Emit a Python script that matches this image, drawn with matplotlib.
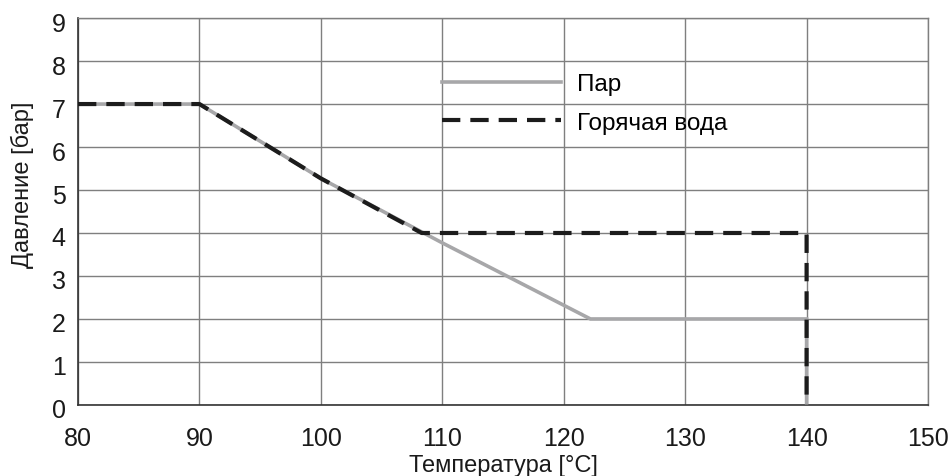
import matplotlib
matplotlib.use("Agg")
import matplotlib.pyplot as plt
import matplotlib.transforms as mtransforms

plt.rcParams['font.family'] = ['Liberation Sans', 'DejaVu Sans']

# Data
steam_t = [80, 90, 100, 110, 122.2, 140, 140]
steam_p = [7, 7, 5.27, 3.77, 2, 2, 0]
water_t = [80, 90, 100, 108.3, 140, 140]
water_p = [7, 7, 5.27, 4, 4, 0]
series_labels = ["Пар", "Горячая вода"]
x_ticks = [80, 90, 100, 110, 120, 130, 140, 150]
y_ticks = [0, 1, 2, 3, 4, 5, 6, 7, 8, 9]
x_label = "Температура [°C]"
y_label = "Давление [бар]"

fig = plt.figure(figsize=(9.49, 4.77), dpi=100)
ax = fig.add_axes([0.0822, 0.149, 0.8957, 0.811])

ax.plot(steam_t, steam_p, color='#a7a7a9', lw=2.6, solid_joinstyle='miter',
        label=series_labels[0], zorder=3)
ax.plot(water_t, water_p, color='#1c1c1c', lw=3.0, dashes=(4.4, 2.4),
        label=series_labels[1], zorder=4)

ax.set_xlim(80, 150)
ax.set_ylim(0, 9)
ax.set_xticks(x_ticks)
ax.set_yticks(y_ticks)
ax.tick_params(length=0, labelsize=18, colors='#1a1a1a')
ax.tick_params(axis='x', pad=15)
ax.tick_params(axis='y', pad=9)
ax.grid(True, color='#7f7f7f', lw=1.0)
ax.set_axisbelow(True)
for s in ['top', 'right']:
    ax.spines[s].set_color('#7f7f7f')
    ax.spines[s].set_linewidth(1.0)
for s in ['left', 'bottom']:
    ax.spines[s].set_color('#333333')
    ax.spines[s].set_linewidth(1.2)

# slight downward offset of y tick labels as in the reference
offset = mtransforms.ScaledTranslation(0, -3 / 100, fig.dpi_scale_trans)
for lab in ax.get_yticklabels():
    lab.set_transform(lab.get_transform() + offset)

ax.set_xlabel(x_label, fontsize=17, labelpad=3, color='#1a1a1a')
ax.set_ylabel(y_label, fontsize=17, color='#1a1a1a')
ax.yaxis.set_label_coords(-0.052, 0.571)

leg = ax.legend(loc='upper left', bbox_to_anchor=(0.428, 0.858), frameon=False,
                fontsize=17.5, handlelength=4.9, handletextpad=0.66,
                labelspacing=0.68, borderpad=0, borderaxespad=0)

fig.savefig("out.png", dpi=100)
